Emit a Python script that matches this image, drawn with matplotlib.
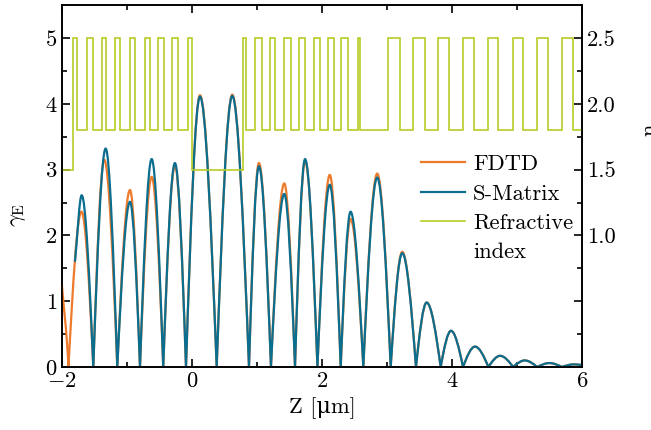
import numpy as np
import matplotlib.pyplot as plt
from matplotlib.path import Path
from matplotlib.patches import PathPatch
from matplotlib.lines import Line2D

plt.rcParams["font.family"] = ["cmr10", "DejaVu Serif"]
plt.rcParams["mathtext.fontset"] = "cm"
plt.rcParams["axes.unicode_minus"] = False
plt.rcParams["axes.formatter.use_mathtext"] = True
plt.rcParams["font.size"] = 16.2
plt.rcParams["xtick.direction"] = "in"
plt.rcParams["ytick.direction"] = "in"

c_fdtd = "#EE7A2B"
c_smat = "#0B6E8F"
c_n = "#B8CC26"

# key points (start, minima, maxima) of gamma_E
z_fdtd = [-2.0, -1.90, -1.70, -1.518, -1.35, -1.149, -0.954, -0.80, -0.62, -0.442,
          -0.262, -0.092, 0.123, 0.38, 0.62, 0.877, 1.03, 1.215, 1.42, 1.585,
          1.74, 1.93, 2.12, 2.288, 2.44, 2.636, 2.85, 3.057, 3.235, 3.446,
          3.61, 3.826, 3.985, 4.17, 4.354, 4.56, 4.74, 4.94, 5.12, 5.31,
          5.50, 5.69, 5.877, 6.0]
g_fdtd = [1.23, 0.0, 2.36, 0.0, 3.15, 0.0, 2.69, 0.0, 2.89, 0.0,
          3.06, 0.0, 4.13, 0.0, 4.14, 0.0, 3.10, 0.0, 2.79, 0.0,
          3.13, 0.0, 2.92, 0.0, 2.25, 0.0, 2.94, 0.0, 1.75, 0.0,
          0.98, 0.0, 0.55, 0.0, 0.31, 0.0, 0.17, 0.0, 0.10, 0.0,
          0.06, 0.0, 0.04, 0.03]

z_smat = [-1.80, -1.697, -1.518, -1.328, -1.149, -0.954, -0.80, -0.62, -0.442,
          -0.262, -0.092, 0.123, 0.38, 0.62, 0.877, 1.03, 1.215, 1.42, 1.585,
          1.74, 1.93, 2.12, 2.288, 2.44, 2.636, 2.85, 3.057, 3.235, 3.446,
          3.61, 3.826, 3.985, 4.17, 4.354, 4.56, 4.74, 4.94, 5.12, 5.31,
          5.50, 5.69, 5.877, 6.0]
g_smat = [1.60, 2.61, 0.0, 3.32, 0.0, 2.51, 0.0, 3.16, 0.0,
          3.10, 0.0, 4.11, 0.0, 4.12, 0.0, 3.05, 0.0, 2.63, 0.0,
          3.16, 0.0, 2.77, 0.0, 2.36, 0.0, 2.88, 0.0, 1.73, 0.0,
          0.98, 0.0, 0.55, 0.0, 0.31, 0.0, 0.17, 0.0, 0.10, 0.0,
          0.06, 0.0, 0.04, 0.03]

# refractive index layer stack
n_edges = [-2.0, -1.826, -1.774, -1.62, -1.53, -1.39, -1.33, -1.18, -1.10, -0.96,
           -0.88, -0.73, -0.65, -0.52, -0.43, -0.31, -0.22, -0.057, 0.0,
           0.79, 0.83, 0.97, 1.07, 1.20, 1.28, 1.42, 1.52, 1.65, 1.74,
           1.88, 1.97, 2.10, 2.18, 2.30, 2.40, 2.55, 2.58,
           3.02, 3.20, 3.40, 3.58, 3.79, 3.96, 4.17, 4.34, 4.56, 4.71,
           4.94, 5.10, 5.31, 5.47, 5.70, 5.86, 6.0]
n_vals = [1.5, 2.5, 1.8, 2.5, 1.8, 2.5, 1.8, 2.5, 1.8, 2.5,
          1.8, 2.5, 1.8, 2.5, 1.8, 2.5, 1.8, 2.5, 1.5,
          2.5, 1.8, 2.5, 1.8, 2.5, 1.8, 2.5, 1.8, 2.5, 1.8,
          2.5, 1.8, 2.5, 1.8, 2.5, 1.8, 2.5, 1.8,
          2.5, 1.8, 2.5, 1.8, 2.5, 1.8, 2.5, 1.8, 2.5, 1.8,
          2.5, 1.8, 2.5, 1.8, 2.5, 1.8]


def smooth_path(z, g):
    # cubic segments: |sin|-like shape between extrema
    verts = [(z[0], g[0])]
    codes = [Path.MOVETO]
    k = np.pi / 6
    for i in range(len(z) - 1):
        z0, z1, g0, g1 = z[i], z[i + 1], g[i], g[i + 1]
        dx = z1 - z0
        if i == 0:
            y0 = g0 + (g1 - g0) / 3
        elif g0 > g1:
            y0 = g0
        else:
            y0 = g0 + (g1 - g0) * k
        if i + 1 == len(z) - 1:
            y1 = g1 - (g1 - g0) / 3
        elif g1 > g0:
            y1 = g1
        else:
            y1 = g1 + (g0 - g1) * k
        verts += [(z0 + dx / 3, y0), (z1 - dx / 3, y1), (z1, g1)]
        codes += [Path.CURVE4] * 3
    return Path(verts, codes)


fig = plt.figure(figsize=(6.51, 4.30), dpi=100)
ax = fig.add_axes([0.0952, 0.1465, 0.7988, 0.8415])
ax2 = ax.twinx()

ax.add_patch(PathPatch(smooth_path(z_fdtd, g_fdtd), fill=False, ec=c_fdtd, lw=1.6, zorder=3))
ax.add_patch(PathPatch(smooth_path(z_smat, g_smat), fill=False, ec=c_smat, lw=1.6, zorder=4))
ax2.stairs(n_vals, n_edges, color=c_n, lw=1.2, baseline=None)

ax.set_xlim(-2, 6)
ax.set_ylim(0, 5.5)
ax2.set_ylim(0, 2.75)
ax.set_xticks([-2, 0, 2, 4, 6])
ax.set_xticks([-1, 1, 3, 5], minor=True)
ax.set_yticks([0, 1, 2, 3, 4, 5])
ax.set_yticks(np.arange(0.5, 5.5, 1.0), minor=True)
ax2.set_yticks([0.5, 1.0, 1.5, 2.0, 2.5])
ax2.set_yticklabels(["", "1.0", "1.5", "2.0", "2.5"])
ax2.set_yticks([0.25, 0.75, 1.25, 1.75, 2.25], minor=True)

ax.tick_params(which="both", top=True, width=1.2)
ax.tick_params(which="major", length=6)
ax.tick_params(which="minor", length=3.5)
ax2.tick_params(which="both", width=1.2)
ax2.tick_params(which="major", length=6)
ax2.tick_params(which="minor", length=3.5)
for a in (ax, ax2):
    for s in a.spines.values():
        s.set_linewidth(1.2)

ax.set_xlabel("Z [\u03bcm]", labelpad=4)
ax.set_ylabel(r"$\gamma_\mathrm{E}$")
ax.yaxis.set_label_coords(-0.066, 0.42)
ax2.set_ylabel("n")
ax2.yaxis.set_label_coords(1.112, 0.655)

# last row only carries the second line of the "Refractive index" label
handles = [Line2D([], [], color=c_fdtd, lw=1.6),
           Line2D([], [], color=c_smat, lw=1.6),
           Line2D([], [], color=c_n, lw=1.2),
           Line2D([], [], color="none")]
ax.legend(handles, ["FDTD", "S-Matrix", "Refractive", "index"], frameon=False,
          loc="upper left", bbox_to_anchor=(0.674, 0.612), handlelength=1.95,
          handletextpad=0.35, labelspacing=0.42, borderaxespad=0)

fig.savefig("out.png", dpi=100)
